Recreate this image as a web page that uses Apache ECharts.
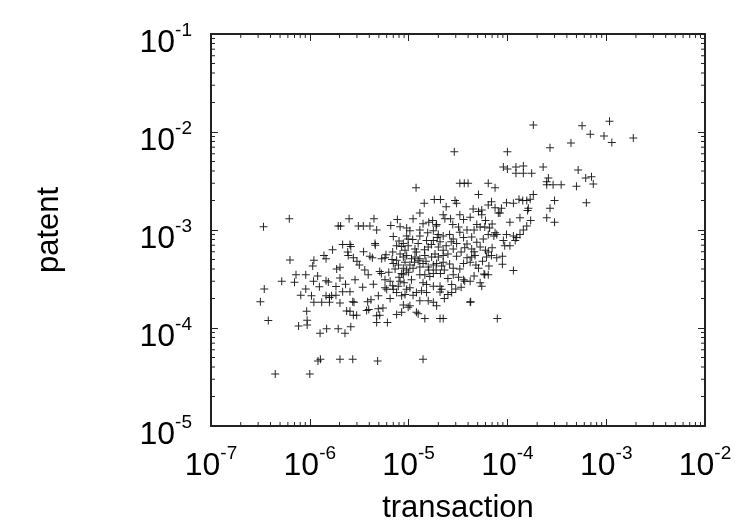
<!DOCTYPE html>
<html>
<head>
<meta charset="utf-8">
<title>transaction vs patent</title>
<script src="https://cdn.jsdelivr.net/npm/echarts@6/dist/echarts.min.js"></script>
<style>
  html, body { margin: 0; padding: 0; background: #fff; }
  #chart { width: 737px; height: 529px; }
</style>
</head>
<body>
<div id="chart"></div>
<script>
// values
var transaction = [
  1.83e-4, 5.7e-4, 1.08e-3, 6.9e-4, 9.5e-4, 1.14e-3, 1.88e-3, 4.4e-4, 2.7e-4, 2.9e-5,
  1.0e-4, 9.1e-5, 1.0e-4, 1.22e-4, 1.45e-4, 1.22e-4, 1.45e-4, 1.76e-4, 2.3e-4, 2.6e-4,
  2.5e-4, 2.5e-4, 2.9e-4, 3.5e-4, 5.2e-4, 6.2e-4, 7.1e-4, 7.4e-4, 5.0e-4, 6.3e-4,
  3.0e-4, 2.7e-4, 2.5e-4, 3.0e-4, 1.83e-4, 1.7e-4, 1.57e-4, 1.43e-4, 1.31e-4, 9.8e-5,
  1.15e-4, 1.63e-4, 1.6e-4, 8.4e-5, 1.06e-4, 1.34e-4, 1.72e-4, 1.57e-4, 1.45e-4, 1.34e-4,
  9.8e-5, 1.15e-4, 1.24e-4, 9.1e-5, 1.06e-4, 1.2e-4, 9.4e-5, 1.15e-4, 1.19e-5, 3.3e-5,
  3.66e-5, 4.0e-5, 6.4e-5, 7.5e-5, 5.1e-5, 1.44e-5, 1.82e-5, 2.1e-5, 2.95e-5, 3.06e-5,
  2.4e-5, 1.3e-5, 1.11e-5, 1.4e-5, 2.24e-5, 3.3e-5, 4.2e-5, 4.5e-5, 5.1e-5, 5.5e-5,
  6.4e-5, 6.9e-5, 7.5e-5, 8.1e-5, 5.5e-5, 3.6e-5, 1.92e-5, 1.78e-5, 9.56e-6, 1.03e-5,
  2.8e-5, 3.2e-5, 4.9e-5, 5.3e-5, 5.9e-5, 6.6e-5, 7.8e-5, 6.4e-5, 3.9e-5, 4.35e-5,
  2.24e-5, 2.6e-5, 9.56e-6, 8.85e-6, 9.9e-6, 1.25e-5, 1.52e-5, 1.78e-5, 2.08e-5, 2.0e-5,
  2.4e-5, 3.06e-5, 3.9e-5, 4.9e-5, 5.3e-5, 6.4e-5, 1.58e-5, 1.16e-5, 8.5e-6, 1.75e-5,
  1.9e-5, 2.33e-5, 7.3e-5, 7.5e-5, 3.4e-7, 6.2e-7, 2.5e-6, 1.94e-6, 2.05e-6, 3.1e-6,
  3.48e-6, 4.06e-6, 4.46e-6, 4.75e-6, 6.6e-6, 7.7e-6, 8.2e-6, 2.15e-6, 2.55e-6, 2.6e-6,
  4.57e-6, 4.6e-6, 7.56e-6, 6.3e-7, 1.39e-6, 1.46e-6, 1.1e-6, 1.07e-6, 2.45e-6, 2.76e-6,
  4.06e-6, 5.34e-6, 5.77e-6, 7.56e-6, 7.0e-6, 1.87e-6, 2.02e-6, 3.17e-6, 9.1e-7, 7.25e-7,
  5.2e-7, 7.0e-7, 1.09e-6, 1.46e-6, 1.54e-6, 2.02e-6, 2.87e-6, 3.9e-6, 5.1e-6, 5.3e-6,
  5.77e-6, 6.5e-6, 8.2e-6, 3.46e-7, 9.1e-7, 1.25e-6, 1.84e-6, 3.43e-6, 5.77e-6, 6.0e-6,
  7.0e-6, 7.56e-6, 7.86e-6, 3.16e-7, 8.1e-7, 1.04e-6, 1.46e-6, 1.58e-6, 1.66e-6, 1.84e-6,
  2.15e-6, 2.55e-6, 4.94e-6, 1.1e-6, 1.32e-6, 1.58e-6, 2.02e-6, 2.72e-6, 2.8e-6, 3.85e-6,
  4.16e-6, 4.94e-6, 3.76e-6, 3.95e-6, 9.3e-7, 2.55e-6, 2.76e-6, 2.98e-6, 5.1e-6, 4.75e-6,
  7.56e-6, 3.8e-7, 9.4e-7, 9.4e-7, 7.7e-7, 4.75e-6, 6.1e-6, 2.6e-6, 1.48e-6, 1.94e-6,
  2.27e-6, 1.27e-6, 1.21e-6, 1.28e-6, 2.02e-6, 2.72e-6, 4.86e-6, 1.4e-5, 4.47e-7, 1.0e-6,
  7.9e-5, 4.25e-5, 2.42e-6, 4.3e-6, 2.36e-6, 8.85e-6, 9.56e-6, 1.07e-5, 1.16e-5, 1.3e-5,
  1.46e-5, 1.71e-5, 1.85e-5, 2.0e-5, 2.24e-5, 2.5e-5, 3.06e-5, 3.9e-5, 4.35e-5, 4.7e-5,
  6.15e-5, 6.9e-5, 7.8e-5, 9.2e-6, 1.03e-5, 1.25e-5, 1.4e-5, 1.58e-5, 1.78e-5, 1.92e-5,
  2.16e-5, 2.24e-5, 8.85e-6, 9.56e-6, 1.11e-5, 8.5e-6, 8.85e-6, 2.83e-5, 3.6e-5, 4.2e-5,
  5.1e-5, 6.5e-5, 1.3e-5, 1.46e-5, 1.64e-5, 1.78e-5, 1.07e-5, 2.83e-5, 3.2e-5, 3.6e-5,
  3.7e-5, 4.2e-5, 5.3e-5, 5.5e-5, 5.9e-5, 6.4e-5, 1.4e-5, 1.52e-5, 1.78e-5, 9.56e-6,
  1.03e-5, 1.2e-5, 1.35e-5, 2.08e-5, 2.16e-5, 2.08e-5, 2.73e-5, 2.5e-5, 2.73e-5, 8.5e-6,
  9.2e-6, 1.11e-5, 1.52e-5, 1.58e-5, 1.78e-5, 1.92e-5, 8.85e-6, 1.03e-5, 9.9e-6, 8.5e-6,
  1.2e-5, 1.25e-5, 4.2e-5, 1.46e-5, 2.08e-5, 2.24e-5, 8.9e-5, 8.9e-5, 5.8e-5, 6.9e-6,
  8.2e-6, 9.9e-6, 7.0e-6, 2.66e-5, 1.95e-5, 2.83e-5, 3.6e-5, 5.7e-5, 3.4e-5, 4.35e-5,
  2.83e-5, 2.24e-5, 1.2e-5, 1.3e-5, 1.56e-5, 8.7e-5,
  5.9e-6, 6.8e-6, 7.9e-6, 7.3e-6, 6.3e-6, 8.0e-6, 6.9e-6, 9.0e-6, 1.0e-5, 1.15e-5,
  1.3e-5, 1.5e-5, 1.6e-5, 1.9e-5, 2.1e-5, 2.3e-5, 2.6e-5, 2.5e-5, 3.3e-5, 3.4e-5,
  4.6e-5, 4.8e-5, 5.6e-5, 6.0e-5, 7.0e-5, 4.6e-5, 3.7e-5, 2.7e-5, 1.7e-5, 1.1e-5,
  8.0e-6, 9.2e-6, 1.45e-5, 2.0e-5, 3.3e-5, 4.6e-5, 1.3e-5, 1.6e-5, 6.0e-5, 7.0e-5,
  3.5e-6, 3.0e-6, 3.6e-6, 4.4e-6, 2.3e-6, 1.2e-6, 1.7e-6, 5.5e-6, 6.5e-6, 1.3e-5,
  2.3e-5, 3.0e-5
];
var patent = [
  1.18e-2, 1.16e-2, 1.29e-2, 9.5e-3, 9.1e-3, 7.8e-3, 8.7e-3, 7.7e-3, 6.9e-3, 6.3e-3,
  6.3e-3, 4.4e-3, 4.2e-3, 4.4e-3, 4.5e-3, 3.8e-3, 3.8e-3, 3.8e-3, 4.4e-3, 3.4e-3,
  3.1e-3, 2.9e-3, 2.9e-3, 2.9e-3, 4.1e-3, 3.4e-3, 3.5e-3, 2.95e-3, 2.8e-3, 1.9e-3,
  2.0e-3, 1.67e-3, 1.33e-3, 1.2e-3, 2.3e-3, 2.06e-3, 2.0e-3, 2.0e-3, 2.06e-3, 1.9e-3,
  1.87e-3, 1.67e-3, 1.58e-3, 1.49e-3, 1.2e-3, 1.33e-3, 1.25e-3, 1.1e-3, 1.0e-3, 9.0e-4,
  9.0e-4, 8.7e-4, 8.4e-4, 7.8e-4, 6.9e-4, 7.8e-4, 6.9e-4, 3.86e-4, 2.7e-3, 3.0e-3,
  3.0e-3, 3.0e-3, 3.0e-3, 2.7e-3, 2.3e-3, 1.87e-3, 2.05e-3, 2.05e-3, 2.0e-3, 1.87e-3,
  1.73e-3, 1.49e-3, 1.3e-3, 1.16e-3, 1.43e-3, 1.43e-3, 1.35e-3, 1.64e-3, 1.54e-3, 1.6e-3,
  1.8e-3, 1.94e-3, 1.69e-3, 1.49e-3, 1.43e-3, 1.28e-3, 1.14e-3, 9.8e-4, 1.05e-3, 9.8e-4,
  1.14e-3, 1.07e-3, 1.14e-3, 1.07e-3, 1.07e-3, 1.05e-3, 9.0e-4, 9.0e-4, 1.0e-3, 8.5e-4,
  8.7e-4, 9.0e-4, 8.7e-4, 7.3e-4, 6.9e-4, 7.3e-4, 7.8e-4, 7.8e-4, 7.6e-4, 6.7e-4,
  6.9e-4, 7.3e-4, 7.2e-4, 7.5e-4, 6.7e-4, 5.95e-4, 6.7e-4, 6.4e-4, 6.8e-4, 1.25e-3,
  1.1e-3, 1.3e-3, 8.7e-4, 9.4e-4, 1.08e-3, 1.3e-3, 1.3e-3, 1.1e-3, 1.1e-3, 1.1e-3,
  1.1e-3, 1.1e-3, 1.3e-3, 1.0e-3, 1.11e-3, 1.28e-3, 1.08e-3, 7.1e-4, 7.1e-4, 6.8e-4,
  7.3e-4, 7.0e-4, 6.9e-4, 4.95e-4, 5.5e-4, 5.1e-4, 4.9e-4, 4.3e-4, 5.5e-4, 5.2e-4,
  5.4e-4, 5.1e-4, 5.2e-4, 4.9e-4, 4.55e-4, 4.0e-4, 4.16e-4, 4.4e-4, 3.5e-4, 3.5e-4,
  3.0e-4, 2.93e-4, 3.0e-4, 3.04e-4, 2.95e-4, 3.23e-4, 3.1e-4, 3.5e-4, 3.77e-4, 3.6e-4,
  3.1e-4, 3.0e-4, 3.0e-4, 2.5e-4, 2.5e-4, 2.63e-4, 2.65e-4, 2.6e-4, 2.57e-4, 2.48e-4,
  2.48e-4, 2.3e-4, 2.67e-4, 1.85e-4, 2.16e-4, 2.13e-4, 2.13e-4, 2.05e-4, 2.13e-4, 2.16e-4,
  2.35e-4, 2.35e-4, 2.13e-4, 1.83e-4, 1.83e-4, 1.83e-4, 1.8e-4, 1.85e-4, 1.83e-4, 1.85e-4,
  1.94e-4, 1.57e-4, 1.51e-4, 1.54e-4, 1.48e-4, 1.48e-4, 1.35e-4, 1.35e-4, 1.35e-4, 1.33e-4,
  1.37e-4, 1.19e-4, 1.2e-4, 1.07e-4, 1.05e-4, 1.14e-4, 1.14e-4, 1.03e-4, 9.8e-5, 9.8e-5,
  8.85e-5, 8.85e-5, 4.6e-5, 4.8e-5, 4.8e-5, 4.8e-5, 4.6e-5, 4.8e-5, 3.4e-5, 3.4e-5,
  1.25e-4, 1.85e-4, 5.95e-4, 5.2e-4, 1.49e-4, 5.3e-4, 5.5e-4, 5.1e-4, 5.3e-4, 5.1e-4,
  5.5e-4, 5.3e-4, 5.7e-4, 5.3e-4, 5.5e-4, 5.7e-4, 5.4e-4, 5.2e-4, 5.3e-4, 5.5e-4,
  5.3e-4, 5.5e-4, 5.2e-4, 4.7e-4, 4.4e-4, 4.85e-4, 4.55e-4, 4.2e-4, 4.4e-4, 4.55e-4,
  4.3e-4, 4.7e-4, 4.07e-4, 3.9e-4, 4.07e-4, 3.6e-4, 3.5e-4, 4.07e-4, 4.55e-4, 4.7e-4,
  4.07e-4, 4.3e-4, 3.5e-4, 3.5e-4, 3.36e-4, 3.6e-4, 3.1e-4, 3.5e-4, 3.3e-4, 3.1e-4,
  3.0e-4, 3.0e-4, 2.9e-4, 2.67e-4, 3.5e-4, 3.5e-4, 2.9e-4, 2.78e-4, 2.67e-4, 2.48e-4,
  2.57e-4, 2.3e-4, 2.4e-4, 2.67e-4, 2.48e-4, 2.33e-4, 2.78e-4, 2.2e-4, 2.3e-4, 2.13e-4,
  2.2e-4, 2.16e-4, 2.3e-4, 1.9e-4, 1.83e-4, 1.69e-4, 1.72e-4, 1.69e-4, 1.63e-4, 1.45e-4,
  1.45e-4, 1.4e-4, 1.83e-4, 1.25e-4, 1.25e-4, 1.25e-4, 5.4e-4, 4.47e-4, 3.55e-4, 5.95e-4,
  5.7e-4, 8.1e-4, 8.6e-4, 1.3e-3, 8.4e-4, 8.1e-4, 8.4e-4, 8.1e-4, 5.95e-4, 6.4e-4,
  6.4e-4, 6.2e-4, 5.95e-4, 8.7e-4, 9.4e-4, 1.67e-3,
  5.6e-4, 5.0e-4, 4.4e-4, 4.0e-4, 3.7e-4, 3.3e-4, 2.7e-4, 2.9e-4, 3.7e-4, 4.7e-4,
  4.2e-4, 4.8e-4, 3.9e-4, 3.9e-4, 3.6e-4, 3.9e-4, 4.5e-4, 3.2e-4, 4.0e-4, 2.6e-4,
  3.4e-4, 4.4e-4, 4.8e-4, 6.2e-4, 6.6e-4, 6.0e-4, 6.6e-4, 7.6e-4, 7.1e-4, 8.0e-4,
  7.7e-4, 6.2e-4, 6.3e-4, 9.0e-4, 9.5e-4, 1.0e-3, 1.0e-3, 1.2e-3, 1.25e-3, 1.15e-3,
  6.0e-4, 4.8e-4, 3.9e-4, 2.8e-4, 2.8e-4, 3.4e-4, 6.3e-4, 1.6e-4, 2.0e-4, 1.9e-4,
  2.0e-4, 2.5e-4
];

// axis ranges and minor tick positions (2..9 within each decade)
var xRange = [1e-7, 1e-2];
var yRange = [1e-5, 1e-1];
var xDecades = [1e-7, 1e-6, 1e-5, 1e-4, 1e-3];
var yDecades = [1e-5, 1e-4, 1e-3, 1e-2];
var minorSteps = [2, 3, 4, 5, 6, 7, 8, 9];

var points = transaction.map(function (x, i) { return [x, patent[i]]; });

var xMinor = [];
xDecades.forEach(function (d) { minorSteps.forEach(function (m) { xMinor.push([m * d, yRange[0]]); }); });
var yMinor = [];
yDecades.forEach(function (d) { minorSteps.forEach(function (m) { yMinor.push([xRange[0], m * d]); }); });

var font = 'Liberation Sans, Arial, Helvetica, sans-serif';
var lineCol = '#222';
var tickLen = 7;
var minorLen = 4;

function powLabel(v) {
  var e = Math.round(Math.log10(v));
  return '{b|10}{s|' + e + '}';
}
var richLabel = {
  b: { fontSize: 32, lineHeight: 38, verticalAlign: 'bottom', color: '#000', fontFamily: font },
  s: { fontSize: 19, lineHeight: 20, verticalAlign: 'top', color: '#000', fontFamily: font }
};

function baseAxis(extra) {
  var a = {
    type: 'log',
    logBase: 10,
    splitLine: { show: false },
    axisLine: { show: true, onZero: false, lineStyle: { color: lineCol, width: 2 } },
    axisTick: { show: true, inside: true, length: tickLen, lineStyle: { color: lineCol, width: 1 } },
    minorTick: { show: false }
  };
  for (var k in extra) a[k] = extra[k];
  return a;
}

var myChart = echarts.init(document.getElementById('chart'), null, { renderer: 'canvas' });

myChart.setOption({
  animation: false,
  backgroundColor: '#fff',
  grid: { left: 211, right: 32, top: 34, bottom: 92, containLabel: false },
  xAxis: [
    baseAxis({
      position: 'bottom', min: xRange[0], max: xRange[1],
      axisLabel: { margin: 18, formatter: powLabel, rich: richLabel },
      name: 'transaction', nameLocation: 'middle', nameGap: 67,
      nameTextStyle: { fontSize: 31, color: '#000', fontFamily: font }
    }),
    baseAxis({
      position: 'top', min: xRange[0], max: xRange[1],
      axisLabel: { show: false }
    })
  ],
  yAxis: [
    baseAxis({
      position: 'left', min: yRange[0], max: yRange[1],
      axisLabel: { margin: 19, padding: [12, 0, 0, 0], formatter: powLabel, rich: richLabel },
      name: 'patent', nameLocation: 'middle', nameGap: 146, nameRotate: 90,
      nameTextStyle: { fontSize: 31, color: '#000', fontFamily: font }
    }),
    baseAxis({
      position: 'right', min: yRange[0], max: yRange[1],
      axisLabel: { show: false }
    })
  ],
  series: [
    {
      type: 'scatter',
      data: points,
      symbol: 'path://M3.5,0h1v3.5h3.5v1h-3.5v3.5h-1v-3.5h-3.5v-1h3.5z',
      symbolSize: 8,
      itemStyle: { color: '#000', opacity: 0.85 },
      silent: true
    },
    {
      // minor ticks on the bottom and top edges
      type: 'custom',
      data: xMinor,
      silent: true,
      renderItem: function (params, api) {
        var b = api.coord([api.value(0), yRange[0]]);
        var t = api.coord([api.value(0), yRange[1]]);
        var st = { stroke: lineCol, lineWidth: 1 };
        return {
          type: 'group',
          children: [
            { type: 'line', shape: { x1: b[0], y1: b[1], x2: b[0], y2: b[1] - minorLen }, style: st },
            { type: 'line', shape: { x1: t[0], y1: t[1], x2: t[0], y2: t[1] + minorLen }, style: st }
          ]
        };
      }
    },
    {
      // minor ticks on the left and right edges
      type: 'custom',
      data: yMinor,
      silent: true,
      renderItem: function (params, api) {
        var l = api.coord([xRange[0], api.value(1)]);
        var r = api.coord([xRange[1], api.value(1)]);
        var st = { stroke: lineCol, lineWidth: 1 };
        return {
          type: 'group',
          children: [
            { type: 'line', shape: { x1: l[0], y1: l[1], x2: l[0] + minorLen, y2: l[1] }, style: st },
            { type: 'line', shape: { x1: r[0], y1: r[1], x2: r[0] - minorLen, y2: r[1] }, style: st }
          ]
        };
      }
    }
  ]
});
</script>
</body>
</html>
